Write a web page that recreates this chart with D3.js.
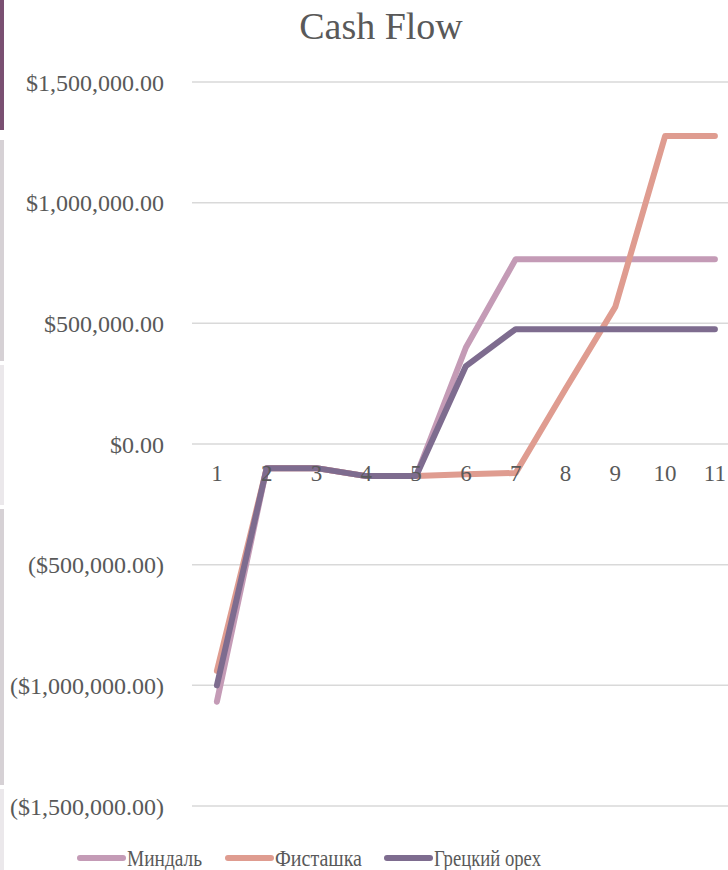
<!DOCTYPE html>
<html>
<head>
<meta charset="utf-8">
<script src="https://cdnjs.cloudflare.com/ajax/libs/d3/7.8.5/d3.min.js"></script>
<style>
  body { margin: 0; background: #fff; }
  #chart { width: 728px; height: 870px; overflow: hidden; }
</style>
</head>
<body>
<div id="chart"></div>
<script>
// Setup data
var categories = [1, 2, 3, 4, 5, 6, 7, 8, 9, 10, 11];
var almond    = [-1068000, -100000, -100000, -133000, -133000, 400000, 766000, 766000, 766000, 766000, 766000];
var pistachio = [-940000, -100000, -100000, -133000, -133000, -125000, -120000, 228000, 568000, 1276000, 1276000];
var walnut    = [-1000000, -100000, -100000, -133000, -133000, 323000, 476000, 476000, 476000, 476000, 476000];
var seriesNames = ["Миндаль", "Фисташка", "Грецкий орех"];
var seriesColors = ["#c49bb6", "#df9c90", "#7e6c8f"];
var yTicks = [-1500000, -1000000, -500000, 0, 500000, 1000000, 1500000];

var serif = "'Liberation Serif', 'DejaVu Serif', serif";
var ink = "#595959";

var series = [almond, pistachio, walnut].map(function(vals, i) {
  return { name: seriesNames[i], color: seriesColors[i], values: vals };
});

var width = 728, height = 870;

var svg = d3.select("#chart").append("svg")
  .attr("width", width)
  .attr("height", height);

// left edge strips (bits of the sheet behind the chart)
var strips = svg.append("g");
strips.append("rect").attr("x", 0).attr("y", 0).attr("width", 4).attr("height", 130).attr("fill", "#7a5072");
strips.append("rect").attr("x", 0).attr("y", 140).attr("width", 4).attr("height", 221).attr("fill", "#d6d1d5");
strips.append("rect").attr("x", 0).attr("y", 365).attr("width", 4).attr("height", 140).attr("fill", "#ebe8eb");
strips.append("rect").attr("x", 0).attr("y", 509).attr("width", 4).attr("height", 276).attr("fill", "#d6d1d5");
strips.append("rect").attr("x", 0).attr("y", 789).attr("width", 4).attr("height", 81).attr("fill", "#ebe8eb");

// scales
var x = d3.scaleBand()
  .domain(categories)
  .range([192, 192 + 11 * 49.8]);

var y = d3.scaleLinear()
  .domain([-1500000, 1500000])
  .range([806, 82]);

var fmtMoney = function(v) {
  var s = "$" + d3.format(",.2f")(Math.abs(v));
  return v < 0 ? "(" + s + ")" : s;
};

// title
svg.append("text")
  .attr("x", 381)
  .attr("y", 39)
  .attr("text-anchor", "middle")
  .style("font-family", serif)
  .style("font-size", "38px")
  .style("fill", ink)
  .text("Cash Flow");

// gridlines
svg.append("g").selectAll("line")
  .data(yTicks)
  .enter().append("line")
  .attr("x1", x.range()[0])
  .attr("x2", x.range()[1])
  .attr("y1", function(d) { return y(d); })
  .attr("y2", function(d) { return y(d); })
  .attr("stroke", "#d9d9d9")
  .attr("stroke-width", 1.5);

// y axis labels
var yAxis = d3.axisLeft(y).tickValues(yTicks).tickFormat(fmtMoney).tickSize(0).tickPadding(28);
var gy = svg.append("g")
  .attr("transform", "translate(192,0)")
  .call(yAxis);
gy.select(".domain").remove();
gy.selectAll("text")
  .style("font-family", serif)
  .style("font-size", "24px")
  .style("fill", ink)
  .attr("dy", "0.34em");

// lines
var line = d3.line()
  .x(function(d, i) { return x(categories[i]) + x.bandwidth() / 2; })
  .y(function(d) { return y(d); });

svg.append("g").selectAll("path")
  .data(series)
  .enter().append("path")
  .attr("d", function(d) { return line(d.values); })
  .attr("fill", "none")
  .attr("stroke", function(d) { return d.color; })
  .attr("stroke-width", 6)
  .attr("stroke-linecap", "round")
  .attr("stroke-linejoin", "round");

// x axis labels (sit on top of the lines)
var xAxis = d3.axisBottom(x).tickSize(0).tickPadding(0);
var gx = svg.append("g")
  .attr("transform", "translate(0," + y(0) + ")")
  .call(xAxis);
gx.select(".domain").remove();
gx.selectAll("text")
  .attr("y", 0)
  .attr("dy", 37)
  .style("font-family", serif)
  .style("font-size", "23px")
  .style("fill", ink);

// legend
var legendX = [80, 228, 387];
var legend = svg.append("g").selectAll("g")
  .data(series)
  .enter().append("g")
  .attr("transform", function(d, i) { return "translate(" + legendX[i] + ",858)"; });

legend.append("line")
  .attr("x1", 0).attr("x2", 43)
  .attr("stroke", function(d) { return d.color; })
  .attr("stroke-width", 6)
  .attr("stroke-linecap", "round");

var legendLen = [75, 87, 107];
legend.append("text")
  .attr("x", 47)
  .attr("y", 8)
  .style("font-family", serif)
  .style("font-size", "24px")
  .style("fill", ink)
  .attr("textLength", function(d, i) { return legendLen[i]; })
  .attr("lengthAdjust", "spacingAndGlyphs")
  .text(function(d) { return d.name; });
</script>
</body>
</html>
